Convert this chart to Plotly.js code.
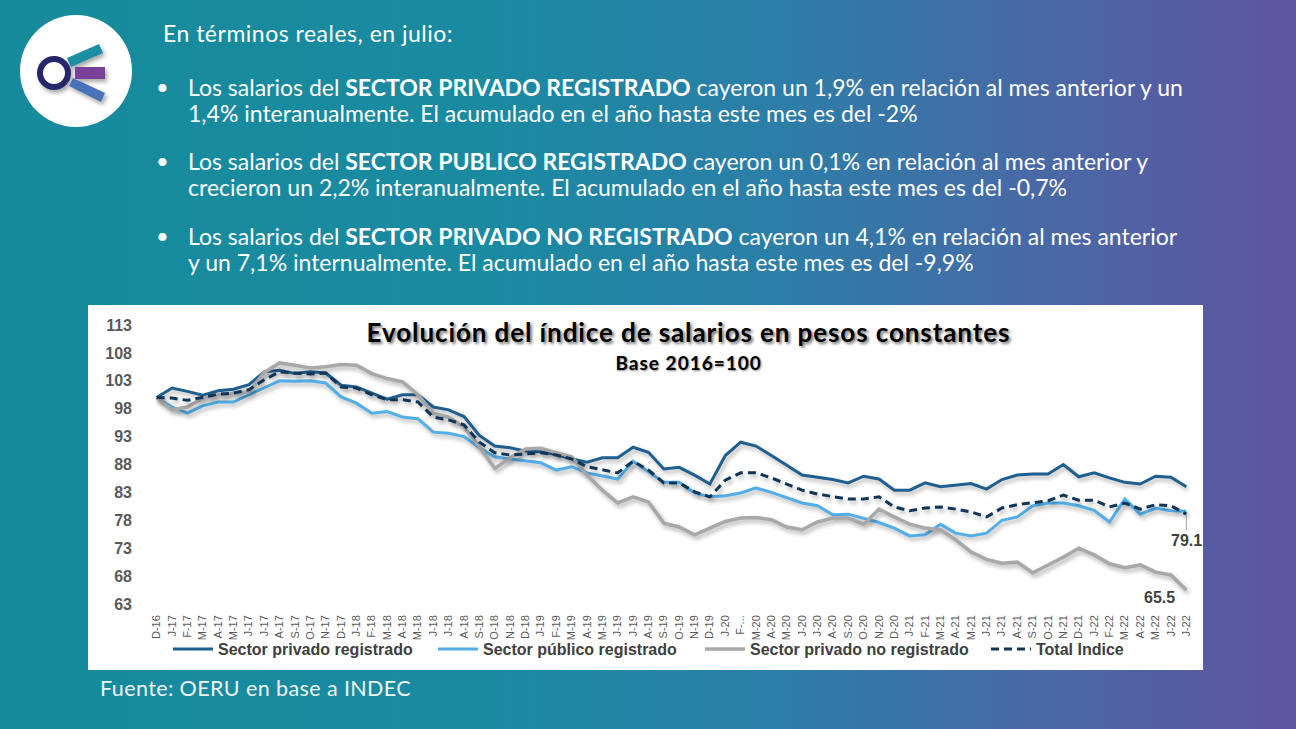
<!DOCTYPE html>
<html><head><meta charset="utf-8">
<script src="https://cdn.plot.ly/plotly-3.0.1.min.js"></script>
<style>
html,body{margin:0;padding:0;}
body{width:1296px;height:729px;overflow:hidden;position:relative;
background:linear-gradient(90deg,#168b9c 0%,#1a8aa1 38%,#2c7ea8 60%,#4869a6 80%,#5f54a0 100%);
font-family:Lato,"Open Sans",sans-serif;color:#fff;}
#logo{position:absolute;left:18px;top:13px;width:116px;height:116px;}
.line{position:absolute;left:188px;font-size:23px;line-height:26px;white-space:nowrap;color:#fff;}
.line b{font-weight:700;letter-spacing:0;}
.bul{position:absolute;left:156px;font-size:22px;line-height:26px;color:#fff;}
#head{position:absolute;left:163px;top:20px;font-size:23px;line-height:26px;color:#fff;letter-spacing:0.5px;}
#fuente{position:absolute;left:100px;top:675px;font-size:21.5px;line-height:26px;color:#eef4f5;letter-spacing:0.4px;}
#chart{position:absolute;left:88px;top:305px;width:1115px;height:365px;background:#fff;}
#chart .scatterlayer path.js-line{filter:drop-shadow(2px 3px 2px rgba(0,0,0,0.3));}
#chart g.annotation[data-index="0"] text{letter-spacing:0.9px;}
#chart g.annotation[data-index="1"] text{letter-spacing:1px;}
</style></head><body>
<svg id="logo" viewBox="0 0 116 116">
  <defs><filter id="sh" x="-30%" y="-30%" width="160%" height="160%"><feDropShadow dx="2" dy="3" stdDeviation="2" flood-color="#000" flood-opacity="0.35"/></filter></defs>
  <circle cx="58" cy="58" r="56" fill="#fff"/>
  <g filter="url(#sh)">
    <polygon points="49,45 81,31 85,40 53,54" fill="#1b8fa3"/>
    <rect x="57" y="54" width="30" height="12" fill="#7a3f9a"/>
    <polygon points="51,73 55,65 87,80 83,89" fill="#4a72b8"/>
    <circle cx="36" cy="60" r="14" fill="#fff" stroke="#26286a" stroke-width="6"/>
  </g>
</svg>
<div id="head">En términos reales, en julio:</div>
<div class="bul" style="top:74px">•</div>
<div class="line" style="top:74px">Los salarios del <b>SECTOR PRIVADO REGISTRADO</b> cayeron un 1,9% en relación al mes anterior y un<br>1,4% interanualmente. El acumulado en el año hasta este mes es del -2%</div>
<div class="bul" style="top:148px">•</div>
<div class="line" style="top:148px">Los salarios del <b>SECTOR PUBLICO REGISTRADO</b> cayeron un 0,1% en relación al mes anterior y<br>crecieron un 2,2% interanualmente. El acumulado en el año hasta este mes es del -0,7%</div>
<div class="bul" style="top:223px">•</div>
<div class="line" style="top:223px">Los salarios del <b>SECTOR PRIVADO NO REGISTRADO</b> cayeron un 4,1% en relación al mes anterior<br>y un 7,1% internualmente. El acumulado en el año hasta este mes es del -9,9%</div>
<div id="chart"></div>
<div id="fuente">Fuente: OERU en base a INDEC</div>
<script>
const categories = ['D-16','J-17','F-17','M-17','A-17','M-17','J-17','J-17','A-17','S-17','O-17','N-17','D-17',
'J-18','F-18','M-18','A-18','M-18','J-18','J-18','A-18','S-18','O-18','N-18','D-18',
'J-19','F-19','M-19','A-19','M-19','J-19','J-19','A-19','S-19','O-19','N-19','D-19',
'J-20','F-...','M-20','A-20','M-20','J-20','J-20','A-20','S-20','O-20','N-20','D-20',
'J-21','F-21','M-21','A-21','M-21','J-21','J-21','A-21','S-21','O-21','N-21','D-21',
'J-22','F-22','M-22','A-22','M-22','J-22','J-22'];

const privadoRegistrado = [100,101.7,101.1,100.4,101.2,101.5,102.3,104.6,104.9,104.3,104.6,104.4,102.2,
101.9,100.8,99.7,100.5,100.5,98.3,97.8,96.6,93.2,91.3,91.0,90.4,
90.3,89.8,89.0,88.4,89.2,89.2,91.1,90.2,87.2,87.5,86.1,84.5,
89.6,92.0,91.3,89.6,87.8,86.1,85.7,85.3,84.7,85.9,85.4,83.4,
83.4,84.7,84.0,84.3,84.6,83.6,85.3,86.1,86.3,86.3,88.0,85.8,
86.5,85.6,84.8,84.5,85.9,85.7,84.0];

const publicoRegistrado = [100,98.3,97.2,98.5,99.2,99.2,100.5,101.7,103.0,102.9,103.0,102.6,100.1,
99.0,97.2,97.5,96.5,96.2,93.8,93.6,93.0,91.0,89.4,89.0,88.6,
88.3,87.0,87.6,86.5,86.0,85.4,88.6,86.7,84.8,84.8,82.9,82.2,
82.4,82.9,83.8,83.0,82.0,81.1,80.6,79.0,79.1,78.3,77.6,76.6,
75.2,75.4,77.3,75.7,75.2,75.7,78.0,78.6,80.6,81.1,81.1,80.6,
79.8,77.7,81.8,79.1,80.2,79.7,79.6];

const privadoNoRegistrado = [100,97.8,98.3,99.9,100.5,100.8,101.0,104.5,106.2,105.8,105.3,105.5,105.9,
105.8,104.3,103.4,102.8,100.5,97.2,96.5,94.7,91.2,87.3,89.2,90.8,
90.9,90.2,89.4,86.1,83.4,81.1,82.2,81.3,77.5,76.8,75.4,76.6,
77.8,78.4,78.5,78.1,76.8,76.3,77.7,78.4,78.4,77.3,80.0,78.6,
77.3,76.6,76.3,74.5,72.3,71.0,70.3,70.5,68.6,70.0,71.4,73.0,
71.8,70.2,69.5,70.0,68.7,68.2,65.5];

const totalIndice = [100,99.9,99.5,100.1,100.6,100.8,101.4,103.2,104.6,104.4,104.2,104.4,101.9,
101.7,100.5,99.6,99.6,99.2,96.5,96.0,95.1,92.0,90.1,89.7,89.9,
90.1,89.7,89.0,87.6,87.0,86.5,88.6,87.0,84.7,84.7,83.1,82.2,
85.2,86.5,86.5,85.6,84.5,83.4,82.7,82.2,81.8,81.8,82.2,80.4,
79.7,80.2,80.4,80.0,79.5,78.6,80.2,80.8,81.1,81.5,82.5,81.6,
81.6,80.4,81.1,80.0,80.8,80.6,79.1];

const yTicks = [63,68,73,78,83,88,93,98,103,108,113];
const seriesNames = ['Sector privado registrado','Sector público registrado','Sector privado no registrado','Total Indice'];

const xIdx = categories.map((c,i)=>i);
const last = categories.length-1;

const traces = [
  {x:xIdx,y:privadoRegistrado,name:seriesNames[0],legend:'legend',mode:'lines',line:{color:'#1f5f8f',width:3}},
  {x:xIdx,y:publicoRegistrado,name:seriesNames[1],legend:'legend2',mode:'lines',line:{color:'#53aee8',width:3}},
  {x:xIdx,y:privadoNoRegistrado,name:seriesNames[2],legend:'legend3',mode:'lines',line:{color:'#a8a8a8',width:3.5}},
  {x:xIdx,y:totalIndice,name:seriesNames[3],legend:'legend4',mode:'lines',line:{color:'#0f3658',width:3,dash:'8px,5px'}}
];

function leg(x){
  return {orientation:'h',xref:'container',yref:'container',x:x,xanchor:'left',y:0.0575,yanchor:'middle',
    font:{family:'Liberation Sans, Arial, sans-serif',size:16,color:'#404040',weight:'bold'},
    itemwidth:40,bgcolor:'rgba(0,0,0,0)'};
}

const layout = {
  width:1115,height:365,
  margin:{l:61,r:9,t:20,b:66},
  paper_bgcolor:'#ffffff',plot_bgcolor:'rgba(0,0,0,0)',
  showlegend:true,
  legend:leg((168-88)/1115),
  legend2:leg((433-88)/1115),
  legend3:leg((700-88)/1115),
  legend4:leg((986-88)/1115),
  xaxis:{range:[-0.5,67.5],tickmode:'array',tickvals:xIdx,ticktext:categories,tickangle:-90,
    tickfont:{family:'Liberation Sans, Arial, sans-serif',size:11,color:'#595959'},
    showgrid:false,zeroline:false,showline:false,ticks:'',ticklabelstandoff:8,automargin:false,fixedrange:true},
  yaxis:{range:[63,113],tickmode:'array',tickvals:yTicks,ticktext:yTicks.map(String),
    tickfont:{family:'Liberation Sans, Arial, sans-serif',size:16,color:'#595959',weight:'bold'},
    showgrid:false,zeroline:false,showline:false,ticks:'',ticklabelstandoff:16,automargin:false,fixedrange:true},
  annotations:[
    {xref:'paper',yref:'paper',x:0.516,y:0.975,xanchor:'center',yanchor:'middle',showarrow:false,borderpad:0,
     text:'<b>Evolución del índice de salarios en pesos constantes</b>',
     font:{family:'Lato, sans-serif',size:26,color:'#000',shadow:'2px 2px 3px rgba(0,0,0,0.55)'}},
    {xref:'paper',yref:'paper',x:0.516,y:0.867,xanchor:'center',yanchor:'middle',showarrow:false,borderpad:0,
     text:'<b>Base 2016=100</b>',
     font:{family:'Lato, sans-serif',size:19,color:'#000',shadow:'1px 1px 2px rgba(0,0,0,0.45)'}},
    {x:last,y:totalIndice[last],xref:'x',yref:'y',text:'<b>'+totalIndice[last].toFixed(1)+'</b>',
     showarrow:true,arrowhead:0,arrowwidth:1,arrowcolor:'#a0a0a0',ax:0,ay:26,
     font:{family:'Liberation Sans, Arial, sans-serif',size:16,color:'#404040'}},
    {x:last,y:privadoNoRegistrado[last],xref:'x',yref:'y',text:'<b>'+privadoNoRegistrado[last].toFixed(1)+'</b>',
     showarrow:false,xshift:-27,yshift:-7,
     font:{family:'Liberation Sans, Arial, sans-serif',size:16,color:'#404040'}}
  ]
};
Plotly.newPlot('chart',traces,layout,{displayModeBar:false,staticPlot:true});
</script>
</body></html>
